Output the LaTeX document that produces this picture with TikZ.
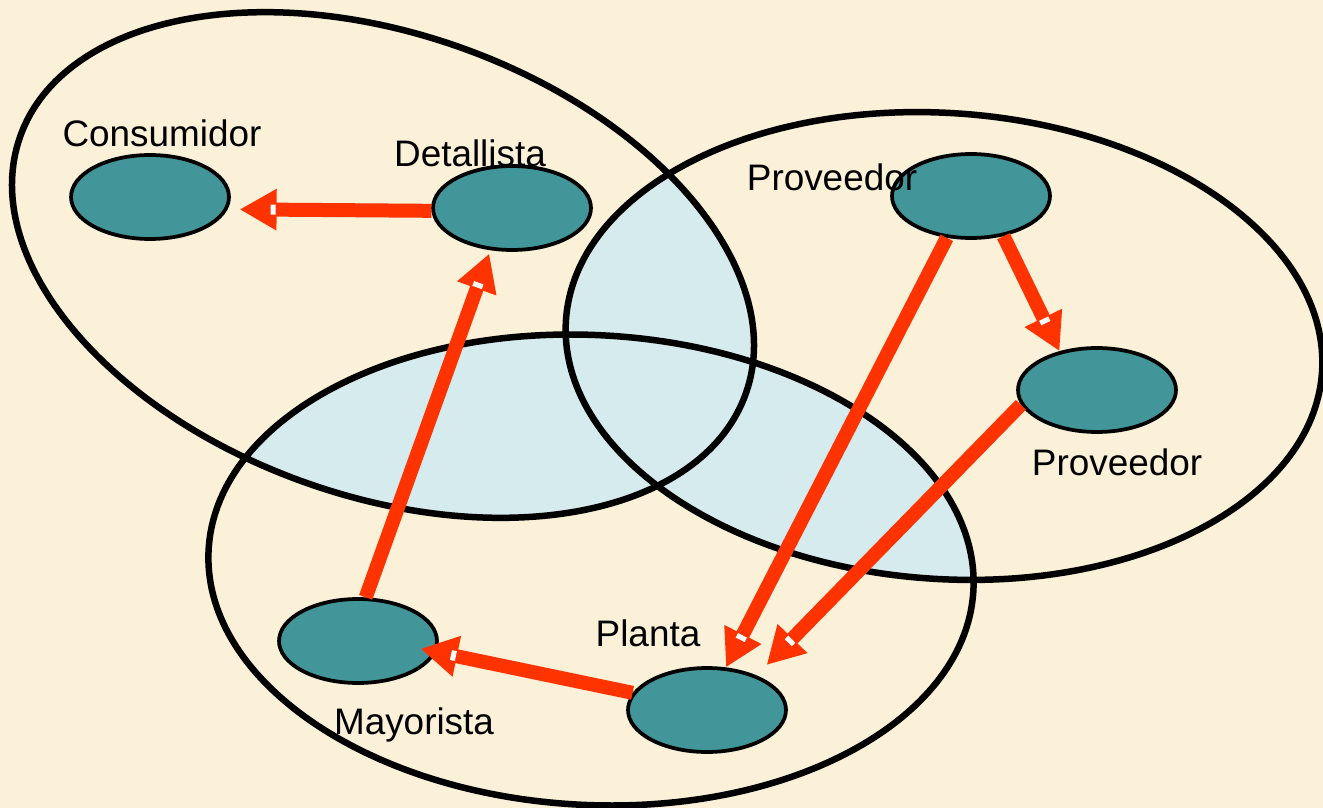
\documentclass[tikz,border=0pt]{standalone}
\usepackage{fontspec}
\setmainfont{Liberation Sans}
\usetikzlibrary{arrows.meta,calc,decorations.markings,shapes.geometric}
\definecolor{cream}{RGB}{251,240,216}
\definecolor{tealnode}{RGB}{66,150,153}
\definecolor{lensblue}{RGB}{214,235,238}
\definecolor{arrred}{RGB}{255,51,0}
\begin{document}
\begin{tikzpicture}[x=0.02cm,y=-0.02cm,
  org/.style={ellipse,draw=black,line width=0.075cm,fill=tealnode,minimum width=3.16cm,minimum height=1.68cm,inner sep=0pt},
  lbl/.style={anchor=base,inner sep=0pt,font=\fontsize{21}{25}\selectfont},
  bigring/.style={draw=black,line width=0.13cm},
  flow/.style={draw=arrred,line width=0.28cm,-{Triangle[length=0.74cm,width=0.78cm]},
    postaction={decorate,decoration={markings,mark=at position -0.67cm with {\fill[white] (-0.05cm,-0.1cm) rectangle (0.05cm,0.1cm);}}}},
  ellA/.style={rotate around={-19.5:(383,265)}},
  ellB/.style={rotate around={-4:(944,346)}},
  ellC/.style={rotate around={-3:(591,570)}}
]
\useasboundingbox (0,0) rectangle (1323,808);
\fill[cream] (0,0) rectangle (1323,808);
% pairwise intersections
\begin{scope}
  \clip[ellA] (383,265) ellipse [x radius=7.7cm,y radius=4.62cm];
  \fill[lensblue,ellB] (944,346) ellipse [x radius=7.58cm,y radius=4.66cm];
  \fill[lensblue,ellC] (591,570) ellipse [x radius=7.66cm,y radius=4.7cm];
\end{scope}
\begin{scope}
  \clip[ellB] (944,346) ellipse [x radius=7.58cm,y radius=4.66cm];
  \fill[lensblue,ellC] (591,570) ellipse [x radius=7.66cm,y radius=4.7cm];
\end{scope}
% outlines
\draw[bigring,ellA] (383,265) ellipse [x radius=7.7cm,y radius=4.62cm];
\draw[bigring,ellB] (944,346) ellipse [x radius=7.58cm,y radius=4.66cm];
\draw[bigring,ellC] (591,570) ellipse [x radius=7.66cm,y radius=4.7cm];
% nodes
\node[org] (cons) at (150,197) {};
\node[org] (det) at (512,208) {};
\node[org] (p1) at (971,196) {};
\node[org] (p2) at (1097,390) {};
\node[org] (may) at (358,641) {};
\node[org] (pl) at (707,710) {};
% labels
\node[lbl] (tcons) at (162,146) {Consumidor};
\node[lbl] (tdet) at (470,166) {Detallista};
\node[lbl] (tp1) at (832,190) {Proveedor};
\node[lbl] (tp2) at (1117,475) {Proveedor};
\node[lbl] (tpl) at (648,646) {Planta};
\node[lbl] (tmay) at (414,734) {Mayorista};
% arrows
\draw[flow] (det.182) -- ($(cons.-9)!0.24cm!(det.182)$);
\draw[flow] (may.80) -- ($(det.243)!0.07cm!(may.80)$);
\draw[flow] (p1.240) -- (pl.66);
\draw[flow] (p1.-51) -- (p2.134);
\draw[flow] (p2.191) -- ($(pl.35)!0.29cm!(p2.191)$);
\draw[flow] (pl.167.5) -- ($(may.-8)!-0.32cm!(pl.167.5)$);
\end{tikzpicture}
\end{document}
